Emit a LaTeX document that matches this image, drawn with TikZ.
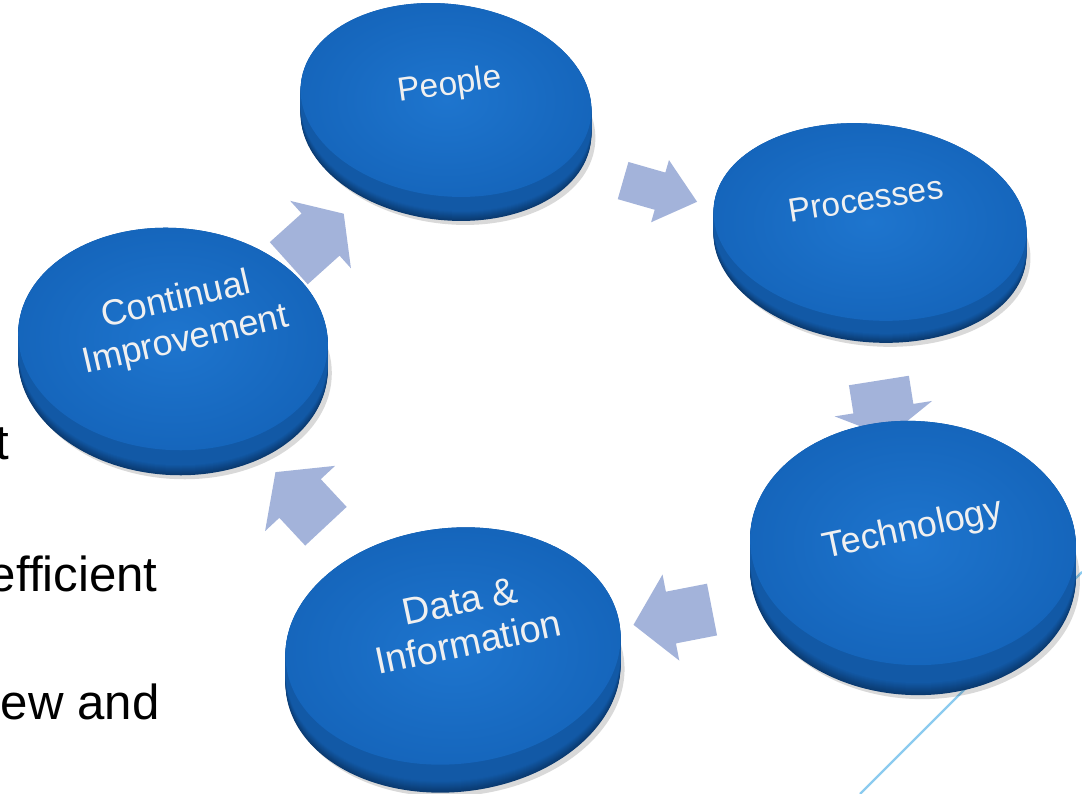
\documentclass[tikz,border=0pt]{standalone}
\usepackage{fontspec}
\setmainfont{Liberation Sans}
\usetikzlibrary{shapes.arrows}

\definecolor{disctop}{HTML}{1565BB}
\definecolor{disctopin}{HTML}{1E75CE}
\definecolor{discside}{HTML}{1259A6}
\definecolor{discrim}{HTML}{0A3A70}
\definecolor{flowblue}{HTML}{A3B3DA}
\definecolor{slideline}{HTML}{8CCBEF}

\begin{document}
\begin{tikzpicture}[x=0.2mm, y=-0.2mm]
\useasboundingbox (0,0) rectangle (1082,794);

% thin line of the slide
\coordinate (l0) at (860,794);
\coordinate (l1) at (1082,572);
\draw[slideline, line width=0.45mm] (l0) -- (l1);

% slide text, cut at the left
\node[anchor=base east, inner sep=0, font=\fontsize{28}{30}\selectfont, name=txt1] at (10,460) {t};
\node[anchor=base east, inner sep=0, font=\fontsize{28}{30}\selectfont, name=txt2] at (158,592) {efficient};
\node[anchor=base east, inner sep=0, font=\fontsize{28}{30}\selectfont, name=txt3] at (160,720) {ew and};

% block arrows
\node[single arrow, fill=flowblue, inner xsep=0, inner ysep=3.8mm, single arrow head extend=2.6mm, single arrow tip angle=80, minimum height=15.4mm, rotate=-16, name=a1] at (649,188) {};
\node[single arrow, fill=flowblue, inner xsep=0, inner ysep=6mm, single arrow head extend=3.8mm, single arrow tip angle=120, minimum height=11.4mm, rotate=-81, name=a2] at (882,400) {};
\node[single arrow, fill=flowblue, inner xsep=0, inner ysep=5.2mm, single arrow head extend=3.5mm, single arrow tip angle=98, minimum height=16mm, rotate=191, name=a3] at (684,615) {};
\node[single arrow, fill=flowblue, inner xsep=0, inner ysep=5.6mm, single arrow head extend=3.9mm, single arrow tip angle=106, minimum height=14.8mm, rotate=133, name=a4] at (308,507) {};
\node[single arrow, fill=flowblue, inner xsep=0, inner ysep=5.6mm, single arrow head extend=3.4mm, single arrow tip angle=111, minimum height=14.8mm, rotate=42, name=a5] at (309,245) {};

% discs
\foreach \cx/\cy/\rx/\ry/\ang/\h in {446/100/146/96/-7/24, 870/222/157/98/-6/22, 913/543/163/122/-3/30, 453/646/168/118/6/28, 173/339/155/111/-4/25} {
  \fill[black, opacity=0.15, rotate around={\ang:(\cx+4,\cy+\h+4)}] (\cx+4,\cy+\h+4) ellipse [x radius=\rx, y radius=\ry];
  \foreach \t in {0,...,\h} {
    \pgfmathsetmacro\off{\h-\t}
    \pgfmathsetmacro\mix{min(100,250*\t/\h)}
    \fill[discside!\mix!discrim, rotate around={\ang:(\cx,\cy+\off)}] (\cx,\cy+\off) ellipse [x radius=\rx, y radius=\ry];
  }
  \shade[inner color=disctopin, outer color=disctop, rotate around={\ang:(\cx,\cy)}] (\cx,\cy) ellipse [x radius=\rx, y radius=\ry];
}

% labels
\node[text=white!94!black, align=center, rotate=8, font=\fontsize{19}{21}\selectfont, name=people] at (450,86) {People};
\node[text=white!94!black, align=center, rotate=9, font=\fontsize{19}{21}\selectfont, name=processes] at (866,199) {Processes};
\node[text=white!94!black, align=center, rotate=12, font=\fontsize{20.5}{22}\selectfont, name=technology] at (913,530) {Technology};
\node[text=white!94!black, align=center, rotate=12, font=\fontsize{21.5}{24}\selectfont, name=data] at (464,622) {Data \&\\Information};
\node[text=white!94!black, align=center, rotate=13, font=\fontsize{20.5}{23.5}\selectfont, name=improve] at (181,321) {Continual\\Improvement};
\end{tikzpicture}
\end{document}
